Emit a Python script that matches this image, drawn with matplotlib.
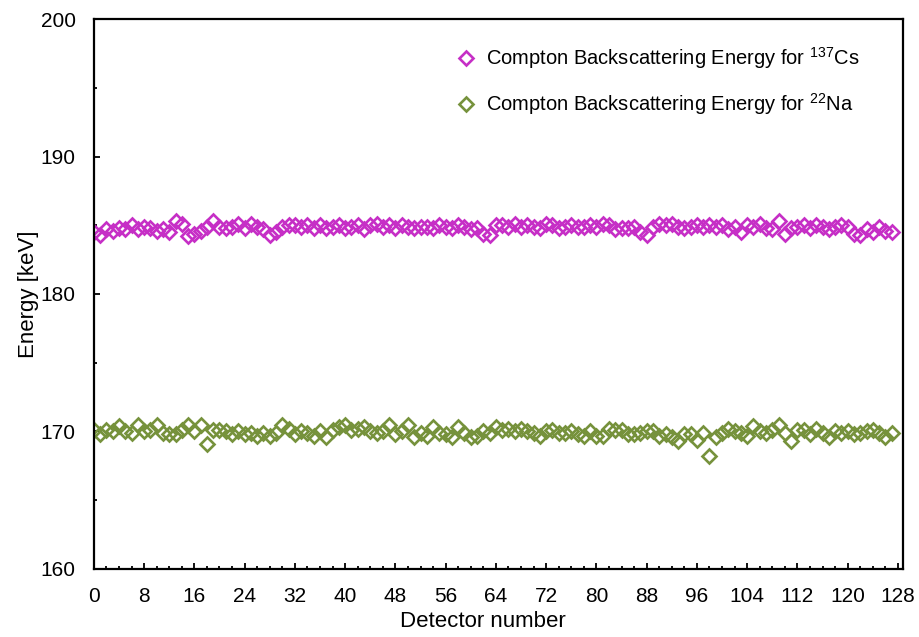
import matplotlib
matplotlib.use("Agg")
import matplotlib.pyplot as plt
from matplotlib.ticker import MultipleLocator
import numpy as np

# detector index 0..127
detectors = list(range(128))

# Compton backscattering energy for 137Cs [keV]
cs137 = [
    184.5, 184.3, 184.7, 184.6, 184.8, 184.7, 185.0, 184.7, 184.9, 184.8,
    184.6, 184.7, 184.5, 185.3, 185.1, 184.2, 184.4, 184.6, 184.9, 185.3,
    184.9, 184.8, 184.9, 185.1, 184.8, 185.1, 184.9, 184.7, 184.3, 184.5,
    184.9, 185.0, 185.0, 184.9, 185.0, 184.8, 185.0, 184.8, 184.9, 185.0,
    184.8, 184.9, 185.0, 184.7, 185.0, 185.1, 184.9, 185.0, 184.8, 185.0,
    184.9, 184.8, 184.9, 184.9, 184.8, 185.0, 184.9, 184.8, 185.0, 184.9,
    184.7, 184.8, 184.4, 184.3, 185.0, 185.0, 184.9, 185.1, 184.9, 185.0,
    184.9, 184.8, 185.1, 185.0, 184.8, 184.9, 185.0, 184.9, 184.9, 185.0,
    184.9, 185.1, 185.0, 184.7, 184.8, 184.8, 184.9, 184.5, 184.3, 184.9,
    185.1, 185.0, 185.1, 184.9, 184.8, 184.9, 185.0, 184.9, 185.0, 184.9,
    185.0, 184.7, 184.9, 184.5, 185.0, 184.9, 185.1, 184.8, 184.7, 185.3,
    184.4, 184.8, 184.9, 185.0, 184.8, 185.0, 184.9, 184.7, 184.9, 185.0,
    184.9, 184.4, 184.3, 184.7, 184.5, 184.9, 184.6, 184.5,
]

# Compton backscattering energy for 22Na [keV]
na22 = [
    170.1, 169.8, 170.1, 170.0, 170.4, 170.0, 169.9, 170.5, 170.0, 170.1,
    170.5, 169.9, 169.8, 169.8, 170.1, 170.5, 170.0, 170.5, 169.1, 170.1,
    170.1, 170.0, 169.8, 170.0, 169.8, 169.9, 169.7, 169.9, 169.7, 169.9,
    170.5, 170.2, 169.8, 170.0, 169.9, 169.7, 170.0, 169.6, 170.1, 170.3,
    170.5, 170.1, 170.2, 170.3, 170.0, 169.9, 170.0, 170.5, 169.8, 170.0,
    170.5, 169.6, 169.9, 169.7, 170.3, 169.9, 169.8, 169.6, 170.3, 169.9,
    169.6, 169.7, 170.0, 169.9, 170.3, 170.1, 170.2, 170.0, 170.2, 170.0,
    169.9, 169.7, 170.0, 170.1, 169.9, 169.9, 170.0, 169.8, 169.7, 170.0,
    169.7, 169.7, 170.2, 170.1, 170.1, 169.8, 169.8, 169.9, 170.0, 170.0,
    169.7, 169.8, 169.6, 169.3, 169.8, 169.8, 169.4, 169.9, 168.2, 169.6,
    169.9, 170.2, 170.0, 169.9, 169.7, 170.4, 170.0, 169.9, 170.1, 170.5,
    169.9, 169.3, 170.1, 170.1, 169.8, 170.2, 169.9, 169.6, 170.0, 169.9,
    170.0, 169.8, 169.9, 170.0, 170.1, 169.9, 169.6, 169.9,
]

plt.rcParams['font.family'] = ['Liberation Sans', 'DejaVu Sans']
plt.rcParams['mathtext.fontset'] = 'custom'
plt.rcParams['mathtext.rm'] = 'Liberation Sans'

fig = plt.figure(figsize=(9.2, 6.37), dpi=100)
ax = fig.add_axes([0.102, 0.107, 0.8795, 0.863])

ax.plot(detectors, cs137, linestyle='none', marker='D', markersize=7,
        markerfacecolor='none', markeredgecolor='#C62FC6', markeredgewidth=1.9,
        label=r'Compton Backscattering Energy for $^{137}$Cs')
ax.plot(detectors, na22, linestyle='none', marker='D', markersize=7,
        markerfacecolor='none', markeredgecolor='#76923C', markeredgewidth=1.9,
        label=r'Compton Backscattering Energy for $^{22}$Na')

ax.set_xlim(0, 128.8)
ax.set_ylim(160, 200)
ax.xaxis.set_major_locator(MultipleLocator(8))
ax.xaxis.set_minor_locator(MultipleLocator(2))
ax.yaxis.set_major_locator(MultipleLocator(10))
ax.yaxis.set_minor_locator(MultipleLocator(5))
ax.tick_params(which='both', direction='in', top=False, right=False,
               width=1.3, labelsize=15, colors='black')
ax.tick_params(which='major', length=4.5)
ax.tick_params(which='minor', length=2.5)
ax.tick_params(axis='y', pad=13)
ax.tick_params(axis='x', pad=13)
for sp in ax.spines.values():
    sp.set_linewidth(1.6)

ax.set_xlabel('Detector number', fontsize=16, labelpad=4)
ax.xaxis.label.set_x(0.481)
ax.set_ylabel('Energy [keV]', fontsize=16, labelpad=1)

ax.legend(loc='upper left', bbox_to_anchor=(0.478, 0.958),
          bbox_transform=fig.transFigure, frameon=False, fontsize=14.5,
          numpoints=1, handlelength=0.8, handletextpad=0.6, labelspacing=1.0)

fig.savefig('out.png', dpi=100)
